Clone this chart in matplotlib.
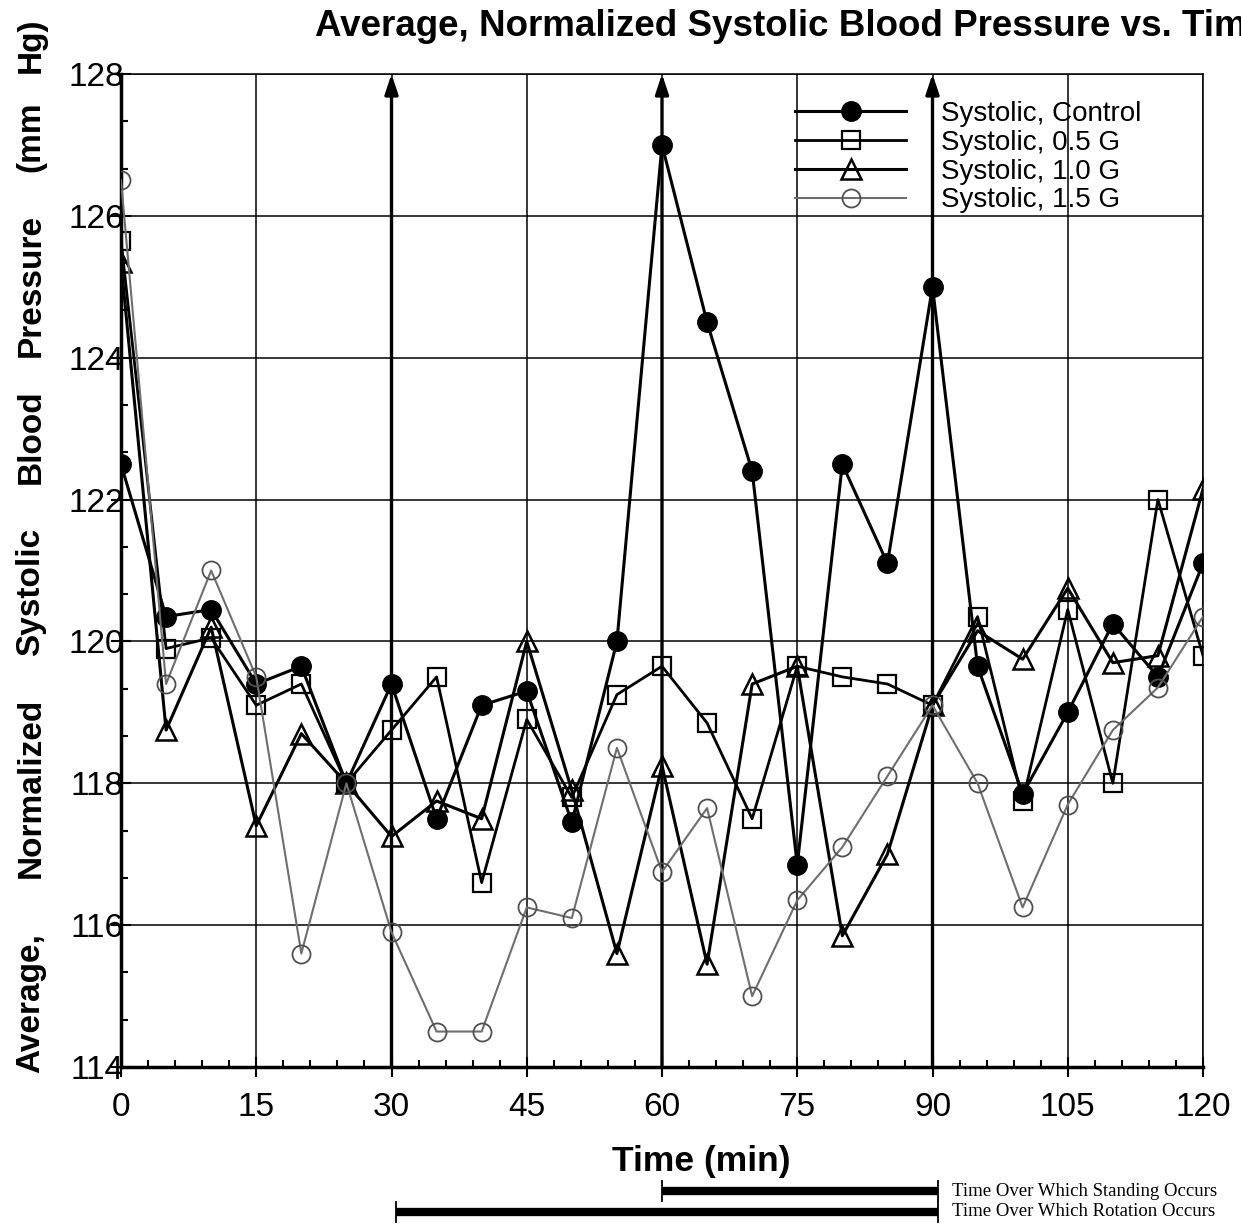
import numpy as np
import matplotlib
matplotlib.use("Agg")
from matplotlib import pyplot as plt
from matplotlib.ticker import MultipleLocator

plt.rcParams['font.family'] = ['Liberation Sans', 'DejaVu Sans']

# time points (min)
time_min = [0, 5, 10, 15, 20, 25, 30, 35, 40, 45, 50, 55, 60,
            65, 70, 75, 80, 85, 90, 95, 100, 105, 110, 115, 120]

# values (mm Hg)
control = [122.5, 120.35, 120.45, 119.4, 119.65, 118.0, 119.4, 117.5, 119.1, 119.3, 117.45, 120.0, 127.0,
           124.5, 122.4, 116.85, 122.5, 121.1, 125.0, 119.65, 117.85, 119.0, 120.25, 119.5, 121.1]
g05 = [125.65, 119.9, 120.05, 119.1, 119.4, 118.0, 118.75, 119.5, 116.6, 118.9, 117.8, 119.25, 119.65,
       118.85, 117.5, 119.65, 119.5, 119.4, 119.1, 120.35, 117.75, 120.45, 118.0, 122.0, 119.8]
g10 = [125.35, 118.75, 120.2, 117.4, 118.7, 118.0, 117.25, 117.75, 117.5, 120.0, 117.9, 115.6, 118.25,
       115.45, 119.4, 119.65, 115.85, 117.0, 119.1, 120.15, 119.75, 120.75, 119.7, 119.8, 122.15]
g15 = [126.5, 119.4, 121.0, 119.5, 115.6, 118.0, 115.9, 114.5, 114.5, 116.25, 116.1, 118.5, 116.75,
       117.65, 115.0, 116.35, 117.1, 118.1, 119.1, 118.0, 116.25, 117.7, 118.75, 119.35, 120.35]

arrow_times = [30, 60, 90]
# bars under the axis: (start, end, label)
bars = [(60, 90.6, 'Time Over Which Standing Occurs'),
        (30.5, 90.6, 'Time Over Which Rotation Occurs')]

# y label words, spread out as on the original (bottom to top)
ylabel_words = ['Average,', 'Normalized', 'Systolic', 'Blood', 'Pressure', '(mm', 'Hg)']
ylabel_word_y = [1003, 788, 592, 437, 285, 137, 45]

W, H = 1241, 1224
fig = plt.figure(figsize=(W / 100, H / 100), dpi=100)
ax = fig.add_axes([121 / W, 1 - 1067 / H, (1203 - 121) / W, (1067 - 74) / H])

ax.plot(time_min, control, color='black', lw=2.2, marker='o', ms=14,
        mfc='black', mec='black', label='Systolic, Control', zorder=5)
ax.plot(time_min, g05, color='black', lw=2.0, marker='s', ms=13,
        mfc='none', mec='black', mew=1.6, label='Systolic, 0.5 G', zorder=5)
ax.plot(time_min, g10, color='black', lw=2.2, marker='^', ms=14,
        mfc='none', mec='black', mew=1.8, label='Systolic, 1.0 G', zorder=5)
ax.plot(time_min, g15, color='#6e6e6e', lw=1.5, marker='o', ms=13,
        mfc='none', mec='#505050', mew=1.3, label='Systolic, 1.5 G', zorder=5)

for t in arrow_times:
    ax.annotate('', xy=(t, 128), xytext=(t, 114),
                arrowprops=dict(arrowstyle='-|>,head_length=1.2,head_width=0.4',
                                color='black', lw=2.4, shrinkA=0, shrinkB=0),
                zorder=4)

ax.set_xlim(0, 120)
ax.set_ylim(114, 128)
ax.xaxis.set_major_locator(MultipleLocator(15))
ax.xaxis.set_minor_locator(MultipleLocator(3))
ax.yaxis.set_major_locator(MultipleLocator(2))
ax.yaxis.set_minor_locator(MultipleLocator(2 / 3))
ax.grid(True, which='major', color='black', lw=1.1)
ax.set_axisbelow(True)

for side in ['top', 'right']:
    ax.spines[side].set_linewidth(1.1)
for side in ['left', 'bottom']:
    ax.spines[side].set_linewidth(2.5)

ax.tick_params(axis='both', which='major', direction='inout', length=14, width=1.5,
               labelsize=24)
ax.tick_params(axis='y', which='major', pad=-9)
ax.tick_params(axis='x', which='major', pad=11)
ax.tick_params(axis='both', which='minor', direction='in', length=5, width=1.5)

ax.legend(loc='upper left', bbox_to_anchor=(795 / W, 1 - 101 / H),
          bbox_transform=fig.transFigure, frameon=False, fontsize=20,
          handlelength=4.0, handletextpad=1.25, labelspacing=0.1,
          borderpad=0, borderaxespad=0)

fig.text(315 / W, 1 - 27 / H,
         'Average, Normalized Systolic Blood Pressure vs. Time',
         fontsize=26.5, fontweight='bold', ha='left', va='center')
for word, wy in zip(ylabel_words, ylabel_word_y):
    fig.text(31 / W, 1 - wy / H, word, fontsize=24, fontweight='bold',
             rotation=90, ha='center', va='center')
fig.text(701 / W, 1 - 1161 / H, 'Time (min)', fontsize=25.5, fontweight='bold',
         ha='center', va='center')

bar_y = [1 - 1191 / H, 1 - 1212 / H]
trans = matplotlib.transforms.blended_transform_factory(ax.transData, fig.transFigure)
for (start, end, label), yb in zip(bars, bar_y):
    ax.plot([start, end], [yb, yb], color='black', lw=6, transform=trans,
            clip_on=False, solid_capstyle='butt')
    for xe in (start, end):
        ax.plot([xe, xe], [yb - 10 / H, yb + 10 / H], color='black', lw=1.3,
                transform=trans, clip_on=False)
    fig.text(952 / W, yb, label, fontsize=13.5, family=['Liberation Serif', 'DejaVu Serif'],
             ha='left', va='center')

fig.savefig('out.png', dpi=100)
